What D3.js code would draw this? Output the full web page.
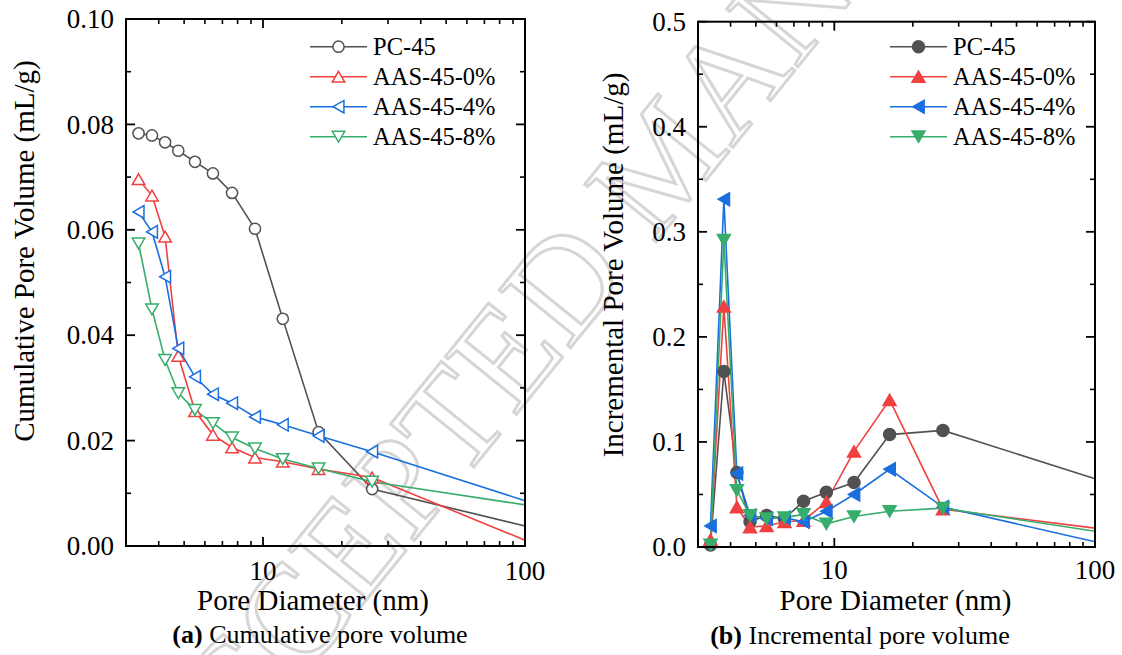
<!DOCTYPE html>
<html><head><meta charset="utf-8">
<script src="https://cdn.jsdelivr.net/npm/d3@7"></script>
<style>
body{margin:0;background:#fff}
svg{display:block}
text{font-family:"Liberation Serif","Times New Roman",serif;fill:#000}
</style></head>
<body><svg id="c" width="1122" height="655"></svg>
<script>
// ---- data ----
const diameters = [3.35, 3.77, 4.23, 4.75, 5.5, 6.44, 7.62, 9.32, 11.9, 16.3, 26.1, 100];
const seriesNames = ["PC-45", "AAS-45-0%", "AAS-45-4%", "AAS-45-8%"];
const cumPC45  = [0.0783, 0.0779, 0.0766, 0.0750, 0.0729, 0.0707, 0.0670, 0.0602, 0.0431, 0.0216, 0.0108, 0.0038];
const cumAAS0  = [0.0696, 0.0665, 0.0587, 0.0361, 0.0256, 0.0211, 0.0187, 0.0168, 0.0160, 0.0146, 0.0130, 0.0011];
const cumAAS4  = [0.0634, 0.0596, 0.0511, 0.0375, 0.0321, 0.0288, 0.0271, 0.0245, 0.0230, 0.0209, 0.0179, 0.0086];
const cumAAS8  = [0.0574, 0.0449, 0.0353, 0.0290, 0.0258, 0.0233, 0.0206, 0.0185, 0.0165, 0.0147, 0.0122, 0.0078];
const incPC45  = [0.002, 0.167, 0.071, 0.024, 0.030, 0.027, 0.0435, 0.052, 0.0614, 0.107, 0.111, 0.065];
const incAAS0  = [0.007, 0.229, 0.038, 0.019, 0.020, 0.024, 0.025, 0.043, 0.091, 0.140, 0.036, 0.018];
const incAAS4  = [0.020, 0.331, 0.070, 0.030, 0.027, 0.028, 0.024, 0.034, 0.050, 0.074, 0.038, 0.005];
const incAAS8  = [0.002, 0.292, 0.054, 0.030, 0.027, 0.028, 0.031, 0.022, 0.029, 0.034, 0.037, 0.015];
const xMajorTicks = [10, 100];
const xMinorTicks = [4, 5, 6, 7, 8, 9, 20, 30, 40, 50, 60, 70, 80, 90];
const cumYTicks = [0, 0.02, 0.04, 0.06, 0.08, 0.10];
const incYTicks = [0, 0.1, 0.2, 0.3, 0.4, 0.5];

// ---- styles ----
const colors = ["#515151", "#F14040", "#1A6FDF", "#37AD6B"];
const shapes = ["circle", "up", "left", "down"];

const svg = d3.select("#c");

// watermark
svg.append("text")
  .attr("transform", "translate(663,160) rotate(-51)")
  .attr("text-anchor", "middle").attr("dy", "0.33em")
  .style("font-size", "140px").style("fill", "none")
  .style("stroke", "#d6d6d6").style("stroke-width", 3)
  .text("ACCEPTED MANUSCRIPT");

function markerPath(shape, s) {
  const h = s * 0.866;
  if (shape === "up") return `M0,${-h/2}L${s/2},${h/2}L${-s/2},${h/2}Z`;
  if (shape === "down") return `M0,${h/2}L${s/2},${-h/2}L${-s/2},${-h/2}Z`;
  if (shape === "left") return `M${-h/2},0L${h/2},${-s/2}L${h/2},${s/2}Z`;
  return "";
}

function drawPanel(cfg) {
  const g = svg.append("g");
  const x = d3.scaleLog().domain([3, 100]).range([cfg.x0, cfg.x1]);
  const y = d3.scaleLinear().domain(cfg.yDomain).range([cfg.y0, cfg.y1]);
  const line = d3.line().x(d => x(d[0])).y(d => y(d[1]));

  // series
  cfg.series.forEach((vals, i) => {
    const pts = diameters.map((d, j) => [d, vals[j]]);
    g.append("path").attr("d", line(pts)).attr("fill", "none")
      .attr("stroke", colors[i]).attr("stroke-width", 1.6);
  });
  cfg.series.forEach((vals, i) => {
    const pts = diameters.map((d, j) => [d, vals[j]]);
    const mg = g.append("g");
    pts.forEach(p => {
      if (p[0] >= 100) return;
      drawMarker(mg, shapes[i], x(p[0]), y(p[1]), colors[i], cfg.filled);
    });
  });

  // frame
  const ax = g.append("g").attr("stroke", "#000");
  ax.append("rect").attr("x", cfg.x0).attr("y", cfg.y1)
    .attr("width", cfg.x1 - cfg.x0).attr("height", cfg.y0 - cfg.y1)
    .attr("fill", "none").attr("stroke-width", 2);
  // x ticks
  xMajorTicks.forEach(t => {
    ax.append("line").attr("x1", x(t)).attr("x2", x(t)).attr("y1", cfg.y0).attr("y2", cfg.y0 - 9).attr("stroke-width", 1.8);
    ax.append("line").attr("x1", x(t)).attr("x2", x(t)).attr("y1", cfg.y1).attr("y2", cfg.y1 + 9).attr("stroke-width", 1.8);
  });
  xMinorTicks.forEach(t => {
    ax.append("line").attr("x1", x(t)).attr("x2", x(t)).attr("y1", cfg.y0).attr("y2", cfg.y0 - 5).attr("stroke-width", 1.6);
    ax.append("line").attr("x1", x(t)).attr("x2", x(t)).attr("y1", cfg.y1).attr("y2", cfg.y1 + 5).attr("stroke-width", 1.6);
  });
  // y ticks
  const step = cfg.yTicks[1] - cfg.yTicks[0];
  cfg.yTicks.forEach((t, k) => {
    ax.append("line").attr("x1", cfg.x0).attr("x2", cfg.x0 + 9).attr("y1", y(t)).attr("y2", y(t)).attr("stroke-width", 1.8);
    ax.append("line").attr("x1", cfg.x1).attr("x2", cfg.x1 - 9).attr("y1", y(t)).attr("y2", y(t)).attr("stroke-width", 1.8);
    if (k < cfg.yTicks.length - 1) {
      const m = t + step / 2;
      ax.append("line").attr("x1", cfg.x0).attr("x2", cfg.x0 + 5).attr("y1", y(m)).attr("y2", y(m)).attr("stroke-width", 1.6);
      ax.append("line").attr("x1", cfg.x1).attr("x2", cfg.x1 - 5).attr("y1", y(m)).attr("y2", y(m)).attr("stroke-width", 1.6);
    }
    g.append("text").attr("x", cfg.x0 - 12).attr("y", y(t)).attr("dy", "0.34em")
      .attr("text-anchor", "end").style("font-size", "27px")
      .text(d3.format(cfg.yFmt)(t));
  });
  xMajorTicks.forEach(t => {
    g.append("text").attr("x", x(t)).attr("y", cfg.xLabelY)
      .attr("text-anchor", "middle").style("font-size", "27px").text(d3.format("d")(t));
  });

  // titles
  g.append("text").attr("x", cfg.xTitleX).attr("y", cfg.xTitleY).attr("text-anchor", "middle")
    .style("font-size", "29px").text("Pore Diameter (nm)");
  g.append("text").attr("transform", `translate(${cfg.yTitleX},${cfg.yTitleY}) rotate(-90)`)
    .attr("text-anchor", "middle").style("font-size", "29px").text(cfg.yTitle);
  const cap = g.append("text").attr("x", cfg.capX).attr("y", cfg.capY).attr("text-anchor", "middle")
    .style("font-size", "26px");
  cap.append("tspan").style("font-weight", "bold").text(cfg.capBold);
  cap.append("tspan").text(cfg.capRest);

  // legend
  seriesNames.forEach((name, i) => {
    const ly = cfg.legY + i * 30;
    g.append("line").attr("x1", cfg.legX).attr("x2", cfg.legX + 57).attr("y1", ly).attr("y2", ly)
      .attr("stroke", colors[i]).attr("stroke-width", 1.6);
    drawMarker(g, shapes[i], cfg.legX + 28.5, ly, colors[i], cfg.filled);
    g.append("text").attr("x", cfg.legX + 63).attr("y", ly).attr("dy", "0.34em")
      .style("font-size", "24.5px").text(name);
  });
}

function drawMarker(g, shape, cx, cy, color, filled) {
  if (shape === "circle") {
    g.append("circle").attr("cx", cx).attr("cy", cy).attr("r", filled ? 6 : 5.6)
      .attr("fill", filled ? color : "#fff").attr("stroke", color).attr("stroke-width", 1.5);
  } else {
    g.append("path").attr("d", markerPath(shape, filled ? 13 : 12.5))
      .attr("transform", `translate(${cx},${cy})`)
      .attr("fill", filled ? color : "#fff").attr("stroke", color).attr("stroke-width", 1.5)
      .attr("stroke-linejoin", "miter");
  }
}

drawPanel({
  x0: 126, x1: 525, y0: 546, y1: 19, yDomain: [0, 0.1], yTicks: cumYTicks, yFmt: ".2f",
  series: [cumPC45, cumAAS0, cumAAS4, cumAAS8], filled: false,
  xLabelY: 580, xTitleX: 313, xTitleY: 610,
  yTitle: "Cumulative Pore Volume (mL/g)", yTitleX: 34, yTitleY: 251,
  capX: 320, capY: 643, capBold: "(a)", capRest: " Cumulative pore volume",
  legX: 310, legY: 46.7
});
drawPanel({
  x0: 698, x1: 1095, y0: 547, y1: 21.7, yDomain: [0, 0.5], yTicks: incYTicks, yFmt: ".1f",
  series: [incPC45, incAAS0, incAAS4, incAAS8], filled: true,
  xLabelY: 579, xTitleX: 895.5, xTitleY: 610,
  yTitle: "Incremental Pore Volume (mL/g)", yTitleX: 623, yTitleY: 265,
  capX: 860, capY: 644, capBold: "(b)", capRest: " Incremental pore volume",
  legX: 890, legY: 46.7
});
</script>
</body></html>
